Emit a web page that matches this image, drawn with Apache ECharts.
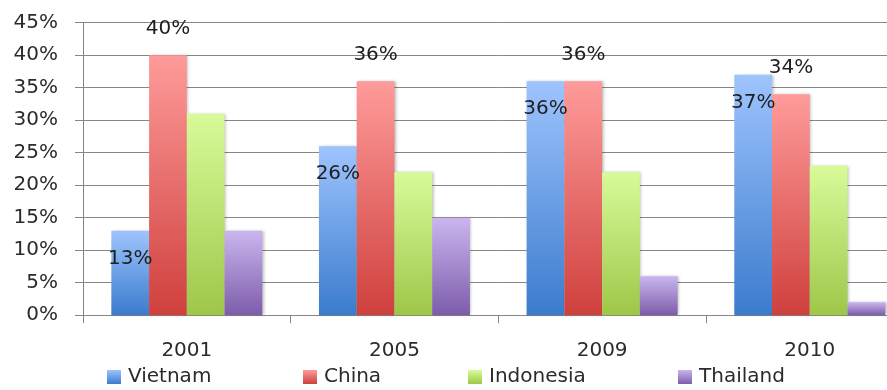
<!DOCTYPE html>
<html>
<head>
<meta charset="utf-8">
<script src="https://cdn.jsdelivr.net/npm/echarts@6/dist/echarts.min.js"></script>
<style>
html,body{margin:0;padding:0;background:#fff;overflow:hidden;width:887px;height:390px;}
#chart{width:920px;height:390px;}
</style>
</head>
<body>
<div id="chart"></div>
<script>
var categories = ['2001', '2005', '2009', '2010'];
var seriesNames = ['Vietnam', 'China', 'Indonesia', 'Thailand'];
var vietnam = [13, 26, 36, 37];
var china = [40, 36, 36, 34];
var indonesia = [31, 22, 22, 23];
var thailand = [13, 15, 6, 2];
var yTicks = [0, 5, 10, 15, 20, 25, 30, 35, 40, 45];

var gradients = [
  ['#9ec4fe', '#3b7bcd'],
  ['#fe9b9a', '#cf403d'],
  ['#d8fb99', '#9ec749'],
  ['#cab6ef', '#7d5caa']
];
var legendLefts = [107, 303, 468, 678];
function grad(c) {
  return new echarts.graphic.LinearGradient(0, 0, 0, 1, [
    {offset: 0, color: c[0]}, {offset: 1, color: c[1]}
  ]);
}
var FONT = 'DejaVu Sans';
var values = [vietnam, china, indonesia, thailand];
var series = seriesNames.map(function (name, i) {
  var s = {
    name: name,
    type: 'bar',
    data: values[i],
    barGap: '0%',
    barCategoryGap: '27.3%',
    itemStyle: {
      color: grad(gradients[i]),
      shadowColor: 'rgba(0,0,0,0.28)',
      shadowBlur: 3,
      shadowOffsetX: 1.5,
      shadowOffsetY: 0
    },
    emphasis: {disabled: true}
  };
  if (i === 0) {
    s.label = {show: true, position: 'insideTop', distance: 18, formatter: '{c}%',
      fontFamily: FONT, fontSize: 20, color: '#1f1f1f'};
  } else if (i === 1) {
    s.label = {show: true, position: 'top', distance: 16, formatter: '{c}%',
      fontFamily: FONT, fontSize: 20, color: '#1f1f1f'};
  }
  return s;
});

var legends = seriesNames.map(function (name, i) {
  return {
    data: [name],
    left: legendLefts[i],
    top: 367,
    icon: 'rect',
    itemWidth: 14,
    itemHeight: 14,
    padding: 0,
    selectedMode: false,
    textStyle: {fontFamily: FONT, fontSize: 20, color: '#2b2b2b', padding: [0, 0, 0, 2]}
  };
});

var chart = echarts.init(document.getElementById('chart'), null, {renderer: 'canvas', width: 920, height: 390});
chart.setOption({
  animation: false,
  backgroundColor: '#fff',
  grid: {left: 83, top: 22.7, width: 830.6, height: 292.5, containLabel: false},
  legend: legends,
  xAxis: {
    type: 'category',
    data: categories,
    axisLine: {show: true, lineStyle: {color: '#868686', width: 1}},
    axisTick: {show: true, length: 8, lineStyle: {color: '#868686'}},
    axisLabel: {fontFamily: FONT, fontSize: 20, color: '#2b2b2b', margin: 26}
  },
  yAxis: {
    type: 'value',
    min: yTicks[0],
    max: yTicks[yTicks.length - 1],
    interval: 5,
    axisLine: {show: true, lineStyle: {color: '#868686', width: 1}},
    axisTick: {show: true, length: 8, lineStyle: {color: '#868686'}},
    splitLine: {show: true, lineStyle: {color: '#868686', width: 1}},
    axisLabel: {fontFamily: FONT, fontSize: 20, color: '#2b2b2b', margin: 25, formatter: '{value}%'}
  },
  series: series
});
</script>
</body>
</html>
